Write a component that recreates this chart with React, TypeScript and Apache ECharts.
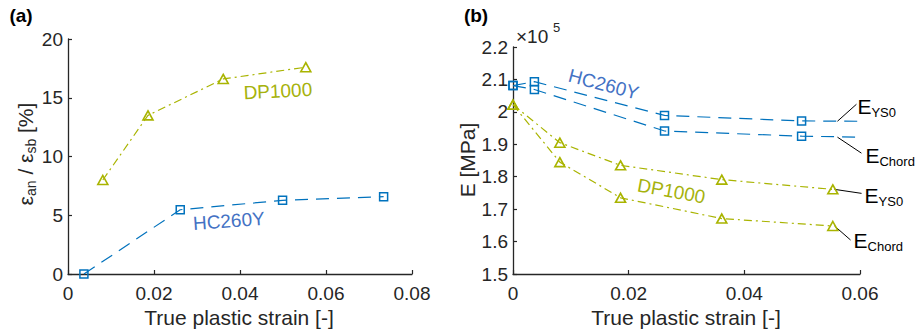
import React, { useEffect, useRef } from "react";
import * as echarts from "echarts";

// ---- Data: panel (a) ----
const aHCx = [0.0037, 0.0261, 0.0499, 0.0734];
const aHCy = [0, 5.47, 6.27, 6.58];
const aDPx = [0.0081, 0.0186, 0.0361, 0.0553];
const aDPy = [8.0, 13.5, 16.6, 17.6];

// ---- Data: panel (b) (E in 1e5 MPa) ----
const bHCx = [0, 0.0037, 0.0262, 0.0499];
const bHCys0 = [2.081, 2.093, 1.989, 1.972];
const bHCchord = [2.081, 2.069, 1.941, 1.925];
const bHCtailX = 0.06;
const bHCtailYs0 = 1.971;
const bHCtailChord = 1.922;
const bDPx = [0, 0.0081, 0.0186, 0.0361, 0.0553];
const bDPys0 = [2.022, 1.905, 1.835, 1.791, 1.761];
const bDPchord = [2.022, 1.845, 1.735, 1.671, 1.648];

const aXTicks = { min: 0, max: 0.08, interval: 0.02 };
const aYTicks = { min: 0, max: 20, interval: 5 };
const bXTicks = { min: 0, max: 0.06, interval: 0.02 };
const bYTicks = { min: 1.5, max: 2.2, interval: 0.1 };

const BLUE = "#0072BD";
const BLUE_TXT = "#4472C4";
const OLIVE = "#A9B400";
const OLIVE_TXT = "#A6B20C";
const INK = "#262626";
const FONT = "'Liberation Sans', Arial, sans-serif";

let measureCtx: CanvasRenderingContext2D | null = null;
function measure(t: string, size: number, weight = "normal") {
  if (!measureCtx) measureCtx = document.createElement("canvas").getContext("2d");
  measureCtx!.font = `${weight} ${size}px ${FONT}`;
  return measureCtx!.measureText(t).width;
}

type Part = [string, boolean];
function subText(
  parts: Part[],
  x: number,
  y: number,
  opt: { main: number; sub: number; dy: number; color: string; rotation?: number; center?: boolean }
) {
  let w = 0;
  const kids: any[] = parts.map(([t, s]) => {
    const size = s ? opt.sub : opt.main;
    const el = {
      type: "text",
      x: w,
      y: s ? opt.dy : 0,
      silent: true,
      style: {
        text: t,
        fontSize: size,
        fontFamily: FONT,
        fill: opt.color,
        textAlign: "left",
        textVerticalAlign: "middle",
      },
    };
    w += measure(t, size);
    return el;
  });
  if (opt.center) kids.forEach((k) => (k.x -= w / 2));
  return { type: "group", x, y, rotation: opt.rotation || 0, children: kids };
}

function plainText(t: string, x: number, y: number, size: number, color: string, extra: any = {}) {
  return {
    type: "text",
    x,
    y,
    rotation: extra.rotation || 0,
    silent: true,
    style: {
      text: t,
      fontSize: size,
      fontFamily: FONT,
      fontWeight: extra.weight || "normal",
      fill: color,
      textAlign: extra.align || "center",
      textVerticalAlign: "middle",
    },
  };
}

const zip = (xs: number[], ys: number[]) => xs.map((x, i) => [x, ys[i]]);

function axisCommon(t: { min: number; max: number; interval: number }, digits: number) {
  return {
    ...t,
    axisLine: { show: true, onZero: false, lineStyle: { color: INK, width: 1.3 } },
    axisTick: { show: true, inside: true, length: 4, lineStyle: { color: INK, width: 1.2 } },
    splitLine: { show: false },
    axisLabel: {
      color: INK,
      fontSize: 19,
      fontFamily: FONT,
      formatter: (v: number) => String(+v.toFixed(digits)),
    },
  };
}

const blueLine = { color: BLUE, width: 1.2, type: [13, 8] as any };
const oliveLine = { color: OLIVE, width: 1.2, type: [8, 4, 2, 4] as any };
const sqItem = { color: "rgba(0,0,0,0)", borderColor: BLUE, borderWidth: 1.5 };
const triItem = { color: "rgba(0,0,0,0)", borderColor: OLIVE, borderWidth: 1.6 };

export default function App() {
  const ref = useRef<HTMLDivElement>(null);
  useEffect(() => {
    const chart = echarts.init(ref.current!, undefined, { renderer: "svg" });
    const base: any = {
      animation: false,
      grid: [
        { left: 68, top: 39, width: 344, height: 235 },
        { left: 513, top: 47, width: 347, height: 227 },
      ],
      xAxis: [
        { type: "value", gridIndex: 0, ...axisCommon(aXTicks, 2), axisLabel: { ...axisCommon(aXTicks, 2).axisLabel, margin: 10 } },
        { type: "value", gridIndex: 1, ...axisCommon(bXTicks, 2), axisLabel: { ...axisCommon(bXTicks, 2).axisLabel, margin: 10 } },
      ],
      yAxis: [
        { type: "value", gridIndex: 0, ...axisCommon(aYTicks, 0), axisLabel: { ...axisCommon(aYTicks, 0).axisLabel, margin: 5 } },
        { type: "value", gridIndex: 1, ...axisCommon(bYTicks, 1), axisLabel: { ...axisCommon(bYTicks, 1).axisLabel, margin: 5 } },
      ],
      series: [
        {
          type: "line", xAxisIndex: 0, yAxisIndex: 0, clip: false,
          data: zip(aHCx, aHCy), symbol: "rect", symbolSize: 8,
          lineStyle: blueLine, itemStyle: sqItem,
        },
        {
          type: "line", xAxisIndex: 0, yAxisIndex: 0, clip: false,
          data: zip(aDPx, aDPy), symbol: "triangle", symbolSize: [10, 9],
          lineStyle: oliveLine, itemStyle: triItem,
        },
        {
          type: "line", xAxisIndex: 1, yAxisIndex: 1, clip: false,
          data: [...zip(bHCx, bHCys0), { value: [bHCtailX, bHCtailYs0], symbol: "none" }],
          symbol: "rect", symbolSize: 8, lineStyle: blueLine, itemStyle: sqItem,
        },
        {
          type: "line", xAxisIndex: 1, yAxisIndex: 1, clip: false,
          data: [...zip(bHCx, bHCchord), { value: [bHCtailX, bHCtailChord], symbol: "none" }],
          symbol: "rect", symbolSize: 8, lineStyle: blueLine, itemStyle: sqItem,
        },
        {
          type: "line", xAxisIndex: 1, yAxisIndex: 1, clip: false,
          data: zip(bDPx, bDPys0), symbol: "triangle", symbolSize: [10, 9],
          lineStyle: oliveLine, itemStyle: triItem,
        },
        {
          type: "line", xAxisIndex: 1, yAxisIndex: 1, clip: false,
          data: zip(bDPx, bDPchord), symbol: "triangle", symbolSize: [10, 9],
          lineStyle: oliveLine, itemStyle: triItem,
        },
      ],
    };
    chart.setOption(base);

    const pa = (p: number[]) => chart.convertToPixel({ gridIndex: 0 }, p) as number[];
    const pb = (p: number[]) => chart.convertToPixel({ gridIndex: 1 }, p) as number[];

    const g: any[] = [];
    // panel letters
    g.push(plainText("(a)", 21, 15, 19, "#000", { weight: "bold" }));
    g.push(plainText("(b)", 476, 15, 19, "#000", { weight: "bold" }));
    // axis titles
    g.push(plainText("True plastic strain [-]", 239, 317, 21, INK));
    g.push(plainText("True plastic strain [-]", 686, 317, 21, INK));
    g.push(plainText("E [MPa]", 467, 160, 21, INK, { rotation: Math.PI / 2 }));
    g.push(
      subText(
        [["ε", false], ["an", true], [" / ε", false], ["sb", true], [" [%]", false]],
        25, 154,
        { main: 21, sub: 14, dy: 6, color: INK, rotation: Math.PI / 2, center: true }
      )
    );
    // x10^5 multiplier
    g.push(plainText("×10", 516, 36, 19, INK, { align: "left" }));
    g.push(plainText("5", 553, 27, 13, INK, { align: "left" }));

    // series labels
    const aDP = pa([0.0488, 15.57]);
    g.push(plainText("DP1000", aDP[0], aDP[1], 19, OLIVE_TXT, { rotation: 0.05 }));
    const aHC = pa([0.0374, 4.51]);
    g.push(plainText("HC260Y", aHC[0], aHC[1], 19, BLUE_TXT, { rotation: 0.07 }));
    const bHC = pb([0.01567, 2.085]);
    g.push(plainText("HC260Y", bHC[0], bHC[1], 19, BLUE_TXT, { rotation: -0.26 }));
    const bDP = pb([0.02738, 1.7556]);
    g.push(plainText("DP1000", bDP[0], bDP[1], 19, OLIVE_TXT, { rotation: -0.18 }));

    // E annotations with leader lines
    const ann: { at: number[]; end: number[]; txt: number[]; sub: string }[] = [
      { at: [0.0561, bHCtailYs0], end: [19, -17], txt: [20, -15], sub: "YS0" },
      { at: [0.0561, bHCtailChord], end: [24, 16], txt: [28, 18], sub: "Chord" },
      { at: [0.0556, bDPys0[4]], end: [27, 4], txt: [30, 6], sub: "YS0" },
      { at: [0.0556, bDPchord[4]], end: [16, 14], txt: [19, 14], sub: "Chord" },
    ];
    ann.forEach((a) => {
      const p = pb(a.at);
      g.push({
        type: "line",
        silent: true,
        shape: { x1: p[0], y1: p[1], x2: p[0] + a.end[0], y2: p[1] + a.end[1] },
        style: { stroke: "#000", lineWidth: 1 },
      });
      g.push(
        subText([["E", false], [a.sub, true]], p[0] + a.txt[0], p[1] + a.txt[1], {
          main: 21, sub: 13, dy: 6, color: "#000",
        })
      );
    });

    chart.setOption({ graphic: g });
    return () => chart.dispose();
  }, []);
  return (
    <div
      ref={ref}
      style={{ position: "fixed", left: 0, top: 0, width: 916, height: 333, background: "#fff" }}
    />
  );
}
